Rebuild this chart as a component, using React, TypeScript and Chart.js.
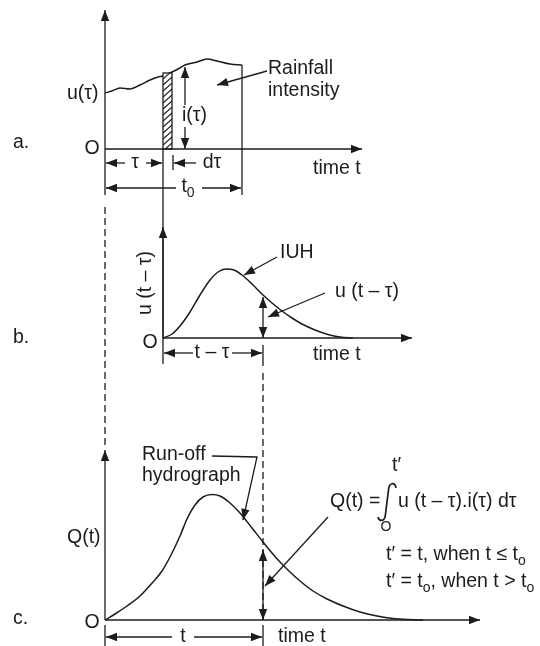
import React, { useEffect, useRef } from "react";
import { Chart, registerables } from "chart.js";
Chart.register(...registerables);

const W = 540;
const H = 646;
const FONT = '"Liberation Sans", Arial, sans-serif';
const INK = "#1c1c1c";

// ---- curve data (diagram units: x = time axis position, y = height position) ----
const rainfallCurve: [number, number][] = [
  [105, 93], [112, 91], [120, 88], [130, 89], [140, 85], [150, 80], [158, 77], [163, 76],
  [172, 72], [178, 69], [185, 65], [197, 62], [207, 59], [217, 61], [230, 64], [242, 65],
];
const iuhCurve: [number, number][] = [
  [163, 338], [172, 334], [180, 326], [190, 312], [200, 295], [210, 280], [218, 272], [226, 269],
  [234, 270], [242, 275], [252, 284], [263, 295], [272, 303], [282, 311], [292, 318], [302, 324],
  [315, 330], [328, 334.5], [340, 337], [353, 338],
];
const hydrographCurve: [number, number][] = [
  [105, 620], [115, 614], [127, 606], [140, 596], [153, 582], [162, 571], [170, 557], [180, 536],
  [187, 519], [195, 505], [203, 497], [212, 494.5], [220, 496], [230, 503], [240, 513], [252, 528],
  [263, 542], [272, 553], [280, 562], [290, 572], [300, 581], [313, 591], [327, 599], [343, 606],
  [360, 612], [377, 616], [393, 618.5], [410, 619.6], [423, 620],
];

// ---- line work ----
type Seg = { p: [number, number][]; end?: boolean; start?: boolean; dash?: boolean };
const axisLines: Seg[] = [
  { p: [[105, 149], [105, 10]], end: true },
  { p: [[105, 149], [362, 149]], end: true },
  { p: [[163, 149], [163, 338]] },
  { p: [[163, 338], [163, 227]], end: true },
  { p: [[163, 338], [412, 338]], end: true },
  { p: [[105, 620], [105, 450]], end: true },
  { p: [[105, 620], [480, 620]], end: true },
];
const guideLines: Seg[] = [
  { p: [[242, 65], [242, 195]] },
  { p: [[105, 149], [105, 195]] },
  { p: [[173, 155], [173, 170]] },
  { p: [[105, 207], [105, 446]], dash: true },
  { p: [[163, 338], [163, 364]] },
  { p: [[263, 345], [263, 366]] },
  { p: [[263, 373], [263, 620]], dash: true },
  { p: [[105, 625], [105, 646]] },
  { p: [[263, 625], [263, 646]] },
];
const measureArrows: Seg[] = [
  { p: [[185, 105], [185, 67]], end: true },
  { p: [[185, 127], [185, 149]], end: true },
  { p: [[263, 297], [263, 338]], end: true, start: true },
  { p: [[263, 550], [263, 620]], end: true, start: true },
  { p: [[125, 163], [106, 163]], end: true },
  { p: [[146, 163], [162, 163]], end: true },
  { p: [[196, 163], [174, 163]], end: true },
  { p: [[176, 188], [106, 188]], end: true },
  { p: [[202, 188], [241, 188]], end: true },
  { p: [[193, 353], [164, 353]], end: true },
  { p: [[232, 353], [262, 353]], end: true },
  { p: [[172, 637], [106, 637]], end: true },
  { p: [[194, 637], [262, 637]], end: true },
];
const leaderArrows: Seg[] = [
  { p: [[267, 71], [217, 85]], end: true },
  { p: [[277, 257], [244, 275]], end: true },
  { p: [[325, 293], [268, 317]], end: true },
  { p: [[212, 456], [257, 457], [243, 520]], end: true },
  { p: [[328, 517], [265, 586]], end: true },
];

// ---- labels ----
type Run = { t: string; sub?: boolean };
type Label = { x: number; y: number; runs: Run[]; size?: number; align?: "left" | "center"; rot?: boolean };
const panelLabels: Label[] = [
  { x: 13, y: 143, runs: [{ t: "a." }] },
  { x: 13, y: 338, runs: [{ t: "b." }] },
  { x: 13, y: 619, runs: [{ t: "c." }] },
  { x: 92, y: 149, runs: [{ t: "O" }], align: "center" },
  { x: 150, y: 343, runs: [{ t: "O" }], align: "center" },
  { x: 92, y: 623, runs: [{ t: "O" }], align: "center" },
];
const axisLabels: Label[] = [
  { x: 67, y: 94, runs: [{ t: "u(τ)" }] },
  { x: 313, y: 169, runs: [{ t: "time t" }] },
  { x: 313, y: 355, runs: [{ t: "time t" }] },
  { x: 278, y: 637, runs: [{ t: "time t" }] },
  { x: 146, y: 283, runs: [{ t: "u (t – τ)" }], align: "center", rot: true },
  { x: 67, y: 538, runs: [{ t: "Q(t)" }] },
];
const noteLabels: Label[] = [
  { x: 182, y: 116, runs: [{ t: "i(τ)" }] },
  { x: 268, y: 69, runs: [{ t: "Rainfall" }] },
  { x: 268, y: 91, runs: [{ t: "intensity" }] },
  { x: 135, y: 163, runs: [{ t: "τ" }], align: "center" },
  { x: 212, y: 163, runs: [{ t: "dτ" }], align: "center" },
  { x: 188, y: 187, runs: [{ t: "t" }, { t: "0", sub: true }], align: "center" },
  { x: 280, y: 253, runs: [{ t: "IUH" }] },
  { x: 335, y: 292, runs: [{ t: "u (t – τ)" }] },
  { x: 212, y: 353, runs: [{ t: "t – τ" }], align: "center" },
  { x: 183, y: 637, runs: [{ t: "t" }], align: "center" },
  { x: 142, y: 455, runs: [{ t: "Run-off" }] },
  { x: 142, y: 476, runs: [{ t: "hydrograph" }] },
  { x: 330, y: 502, runs: [{ t: "Q(t) =" }] },
  { x: 392, y: 466, runs: [{ t: "t′" }] },
  { x: 386, y: 527, runs: [{ t: "O" }], size: 14, align: "center" },
  { x: 398, y: 502, runs: [{ t: "u (t – τ).i(τ) dτ" }] },
  { x: 386, y: 555, runs: [{ t: "t′ = t, when t ≤ t" }, { t: "o", sub: true }] },
  { x: 386, y: 582, runs: [{ t: "t′ = t" }, { t: "o", sub: true }, { t: ", when t > t" }, { t: "o", sub: true }] },
];
const hatchedBar = { x0: 163, x1: 172, top: 73, base: 149 };
const integralSign = { x: 387, top: 483, bottom: 521 };

const diagramPlugin = {
  id: "diagram",
  afterDatasetsDraw(chart: any) {
    const ctx: CanvasRenderingContext2D = chart.ctx;
    const sx = chart.scales.x;
    const sy = chart.scales.y;
    const X = (v: number) => sx.getPixelForValue(v);
    const Y = (v: number) => sy.getPixelForValue(v);
    ctx.save();
    ctx.strokeStyle = INK;
    ctx.fillStyle = INK;
    ctx.lineWidth = 1.3;
    ctx.lineCap = "butt";

    const head = (tx: number, ty: number, fx: number, fy: number) => {
      const a = Math.atan2(ty - fy, tx - fx);
      const L = 11, hw = 4.2;
      ctx.beginPath();
      ctx.moveTo(tx, ty);
      ctx.lineTo(tx - L * Math.cos(a) + hw * Math.sin(a), ty - L * Math.sin(a) - hw * Math.cos(a));
      ctx.lineTo(tx - L * Math.cos(a) - hw * Math.sin(a), ty - L * Math.sin(a) + hw * Math.cos(a));
      ctx.closePath();
      ctx.fill();
    };
    const drawSeg = (s: Seg) => {
      const pts = s.p.map(([a, b]) => [X(a), Y(b)]);
      ctx.setLineDash(s.dash ? [7, 4] : []);
      ctx.beginPath();
      pts.forEach(([a, b], i) => (i ? ctx.lineTo(a, b) : ctx.moveTo(a, b)));
      ctx.stroke();
      ctx.setLineDash([]);
      const n = pts.length;
      if (s.end) head(pts[n - 1][0], pts[n - 1][1], pts[n - 2][0], pts[n - 2][1]);
      if (s.start) head(pts[0][0], pts[0][1], pts[1][0], pts[1][1]);
    };

    // hatched bar
    const bx0 = X(hatchedBar.x0), bx1 = X(hatchedBar.x1), bt = Y(hatchedBar.top), bb = Y(hatchedBar.base);
    ctx.fillStyle = "#fff";
    ctx.fillRect(bx0, bt, bx1 - bx0, bb - bt);
    ctx.save();
    ctx.beginPath();
    ctx.rect(bx0, bt, bx1 - bx0, bb - bt);
    ctx.clip();
    ctx.lineWidth = 1.1;
    for (let yy = bt + 2; yy < bb + 12; yy += 6) {
      ctx.beginPath();
      ctx.moveTo(bx0, yy + 4);
      ctx.lineTo(bx1, yy - 4);
      ctx.stroke();
    }
    ctx.restore();
    ctx.fillStyle = INK;
    ctx.lineWidth = 1.3;
    ctx.strokeRect(bx0, bt, bx1 - bx0, bb - bt);

    [...axisLines, ...guideLines, ...measureArrows, ...leaderArrows].forEach(drawSeg);

    // integral sign
    const ix = X(integralSign.x), it = Y(integralSign.top), ib = Y(integralSign.bottom);
    ctx.lineWidth = 1.7;
    ctx.beginPath();
    ctx.moveTo(ix + 9, it + 5);
    ctx.bezierCurveTo(ix + 8, it - 1, ix + 2, it - 1, ix + 1.5, it + 7);
    ctx.lineTo(ix - 1.5, ib - 7);
    ctx.bezierCurveTo(ix - 2, ib + 1, ix - 8, ib + 1, ix - 9, ib - 4);
    ctx.stroke();
    ctx.lineWidth = 1.3;

    // labels
    const drawLabel = (l: Label) => {
      const size = l.size ?? 19.5;
      const subSize = Math.round(size * 0.72);
      ctx.textBaseline = "middle";
      ctx.textAlign = "left";
      let total = 0;
      l.runs.forEach((r) => {
        ctx.font = `${r.sub ? subSize : size}px ${FONT}`;
        total += ctx.measureText(r.t).width;
      });
      ctx.save();
      ctx.translate(X(l.x), Y(l.y));
      if (l.rot) ctx.rotate(-Math.PI / 2);
      let cx = l.align === "center" ? -total / 2 : 0;
      l.runs.forEach((r) => {
        ctx.font = `${r.sub ? subSize : size}px ${FONT}`;
        ctx.fillStyle = INK;
        ctx.fillText(r.t, cx, r.sub ? size * 0.3 : 0);
        cx += ctx.measureText(r.t).width;
      });
      ctx.restore();
    };
    [...panelLabels, ...axisLabels, ...noteLabels].forEach(drawLabel);
    ctx.restore();
  },
};

const toXY = (arr: [number, number][]) => arr.map(([x, y]) => ({ x, y }));

export default function App() {
  const ref = useRef<HTMLCanvasElement>(null);
  useEffect(() => {
    document.body.style.margin = "0";
    const curve = (data: [number, number][]) => ({
      data: toXY(data),
      showLine: true,
      pointRadius: 0,
      borderColor: INK,
      borderWidth: 1.5,
      cubicInterpolationMode: "monotone" as const,
      fill: false,
    });
    const chart = new Chart(ref.current!, {
      type: "scatter",
      data: {
        datasets: [curve(rainfallCurve), curve(iuhCurve), curve(hydrographCurve)],
      },
      options: {
        responsive: false,
        animation: false,
        events: [],
        layout: { padding: 0 },
        plugins: { legend: { display: false }, tooltip: { enabled: false } },
        scales: {
          x: { type: "linear", min: 0, max: W, display: false },
          y: { type: "linear", min: 0, max: H, reverse: true, display: false },
        },
      },
      plugins: [diagramPlugin],
    });
    return () => chart.destroy();
  }, []);
  return (
    <div style={{ width: W, height: H, background: "#fff" }}>
      <canvas ref={ref} width={W} height={H} style={{ display: "block" }} />
    </div>
  );
}
